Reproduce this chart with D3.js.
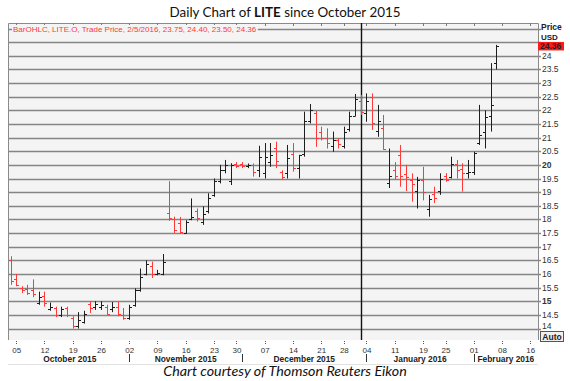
<!DOCTYPE html>
<html>
<head>
<meta charset="utf-8">
<script src="https://cdn.jsdelivr.net/npm/d3@7"></script>
<style>
  body { margin: 0; background: #fff; }
  svg { display: block; }
</style>
</head>
<body>
<div id="chart"></div>
<script>
// trading sessions shown on the chart (Oct 2 2015 - Feb 5 2016)
const dates = [
  "2015-10-02","2015-10-05","2015-10-06","2015-10-07","2015-10-08","2015-10-09","2015-10-12","2015-10-13","2015-10-14","2015-10-15",
  "2015-10-16","2015-10-19","2015-10-20","2015-10-21","2015-10-22","2015-10-23","2015-10-26","2015-10-27","2015-10-28","2015-10-29",
  "2015-10-30","2015-11-02","2015-11-03","2015-11-04","2015-11-05","2015-11-06","2015-11-09","2015-11-10","2015-11-11","2015-11-12",
  "2015-11-13","2015-11-16","2015-11-17","2015-11-18","2015-11-19","2015-11-20","2015-11-23","2015-11-24","2015-11-25","2015-11-27",
  "2015-11-30","2015-12-01","2015-12-02","2015-12-03","2015-12-04","2015-12-07","2015-12-08","2015-12-09","2015-12-10","2015-12-11",
  "2015-12-14","2015-12-15","2015-12-16","2015-12-17","2015-12-18","2015-12-21","2015-12-22","2015-12-23","2015-12-24","2015-12-28",
  "2015-12-29","2015-12-30","2015-12-31","2016-01-04","2016-01-05","2016-01-06","2016-01-07","2016-01-08","2016-01-11","2016-01-12",
  "2016-01-13","2016-01-14","2016-01-15","2016-01-19","2016-01-20","2016-01-21","2016-01-22","2016-01-25","2016-01-26","2016-01-27",
  "2016-01-28","2016-01-29","2016-02-01","2016-02-02","2016-02-03","2016-02-04","2016-02-05"
];
// empty sessions on the right of the time axis
const futureDates = ["2016-02-08","2016-02-09","2016-02-10","2016-02-11","2016-02-12","2016-02-16"];

const open = [
  16.50,15.80,15.50,15.45,15.40,14.95,15.20,14.70,14.75,14.50,
  14.75,14.40,14.10,14.25,14.90,14.80,14.80,14.80,14.70,14.80,
  14.50,14.40,14.85,15.40,16.00,16.30,16.00,16.00,18.25,18.00,
  17.85,17.50,18.00,18.30,17.90,18.30,18.90,19.40,19.80,19.40,
  20.05,20.05,19.95,20.00,19.80,19.70,20.10,20.60,19.75,19.70,
  20.40,19.90,20.40,21.60,21.90,21.20,21.00,20.70,20.90,20.70,
  21.30,21.80,22.35,21.90,22.50,21.25,21.35,19.35,19.80,20.35,
  19.65,19.45,19.05,19.45,18.40,18.95,19.05,19.60,19.55,20.05,
  19.85,19.70,19.75,20.80,21.20,21.80,23.75
];
const high = [
  16.65,16.00,15.55,15.60,15.80,15.35,15.35,14.95,14.80,14.80,
  14.80,14.45,14.60,14.65,15.00,15.00,15.00,14.87,14.97,14.97,
  14.75,14.87,15.47,16.20,16.50,16.45,16.15,16.73,19.40,18.10,
  18.09,17.97,18.77,18.40,18.48,18.96,19.50,20.00,20.18,20.06,
  20.10,20.10,20.05,20.05,20.70,20.80,20.80,20.85,19.80,20.73,
  20.80,20.37,21.95,22.23,21.98,21.40,21.34,21.22,20.97,21.40,
  21.95,22.60,22.56,22.62,22.62,22.20,21.83,20.60,20.10,20.73,
  20.00,19.69,19.56,19.93,18.90,19.20,19.69,19.70,20.30,20.18,
  20.06,20.18,20.48,22.20,22.00,23.73,24.40
];
const low = [
  15.60,15.55,15.30,15.23,15.15,14.87,14.80,14.65,14.42,14.42,
  14.42,14.00,14.00,14.18,14.57,14.68,14.68,14.50,14.60,14.45,
  14.32,14.32,14.80,15.35,15.95,15.85,15.95,15.95,17.95,17.50,
  17.47,17.47,17.97,17.92,17.80,18.22,18.83,19.32,19.69,19.26,
  19.88,19.88,19.88,19.57,19.55,19.50,19.93,19.88,19.45,19.50,
  19.75,19.50,20.30,21.52,20.66,20.90,20.60,20.48,20.60,20.60,
  21.22,21.77,21.83,21.58,21.28,21.03,20.55,19.15,19.45,19.20,
  19.04,18.65,18.40,18.70,18.10,18.60,18.90,19.38,19.50,19.50,
  19.02,19.50,19.63,20.73,20.60,21.22,23.50
];
const close = [
  15.75,15.60,15.40,15.30,15.25,15.15,14.95,14.80,14.50,14.70,
  14.50,14.10,14.30,14.55,14.75,14.90,14.85,14.55,14.80,14.55,
  14.40,14.80,15.40,15.90,16.35,16.00,16.05,16.45,18.05,17.60,
  17.55,17.90,18.10,18.05,18.20,18.80,19.40,19.80,20.00,20.00,
  19.95,19.95,20.00,19.75,20.30,20.30,20.35,20.15,19.55,20.25,
  19.90,20.35,21.60,22.00,21.00,21.00,20.80,20.90,20.75,21.20,
  21.80,22.40,21.95,22.35,21.55,21.60,20.58,19.60,19.60,19.60,
  19.55,19.30,19.45,19.00,18.75,18.80,19.50,19.45,20.05,19.80,
  19.70,19.75,20.45,21.10,21.75,22.20,24.36
];

const priceTicks = [24, 23.5, 23, 22.5, 22, 21.5, 21, 20.5, 20, 19.5, 19, 18.5, 18, 17.5, 17, 16.5, 16, 15.5, 15, 14.5, 14];
const gridValues = [25, 24.5].concat(priceTicks);
const boldTicks = [20, 15];

const dayTicks = ["2015-10-05","2015-10-12","2015-10-19","2015-10-26","2015-11-02","2015-11-09","2015-11-16","2015-11-23","2015-11-30",
  "2015-12-07","2015-12-14","2015-12-21","2015-12-28","2016-01-04","2016-01-11","2016-01-19","2016-01-25","2016-02-01","2016-02-08","2016-02-16"];
const monthStarts = ["2015-10-02","2015-11-02","2015-12-01","2016-01-04","2016-02-01"];
const monthLabels = ["October 2015","November 2015","December 2015","January 2016","February 2016"];

const legendText = "BarOHLC, LITE.O, Trade Price, 2/5/2016, 23.75, 24.40, 23.50, 24.36";
const yearBreak = "2015-12-31";

const WIDTH = 570;
const HEIGHT = 381;
const PLOT = { left: 8, right: 538, top: 23, bottom: 340 };
const RED = "#ff3838";
const BLACK = "#1e1e1e";
const GRID = "#858585";
const AXIS_FONT = "'Liberation Sans', Arial, sans-serif";

const svg = d3.select("#chart").append("svg")
  .attr("width", WIDTH)
  .attr("height", HEIGHT);

const x = d3.scalePoint()
  .domain(dates.concat(futureDates))
  .range([10.5, 530.3]);

const y = d3.scaleLinear()
  .domain([14, 25])
  .range([328.5, 28.5]);

// title
svg.append("text")
  .attr("x", 285)
  .attr("y", 17)
  .attr("text-anchor", "middle")
  .style("font-family", "Lato, 'Open Sans', sans-serif")
  .style("font-size", "13.4px")
  .attr("fill", "#111")
  .call(t => {
    t.append("tspan").text("Daily Chart of ");
    t.append("tspan").style("font-weight", "bold").text("LITE");
    t.append("tspan").text(" since October 2015");
  });

// plot background
svg.append("rect")
  .attr("x", PLOT.left)
  .attr("y", PLOT.top)
  .attr("width", PLOT.right - PLOT.left)
  .attr("height", PLOT.bottom - PLOT.top)
  .attr("fill", "#f4f4f4");

// gridlines
svg.append("g")
  .selectAll("line")
  .data(gridValues)
  .enter()
  .append("line")
  .attr("x1", PLOT.left)
  .attr("x2", PLOT.right + 3)
  .attr("y1", d => Math.round(y(d)) + 0.5)
  .attr("y2", d => Math.round(y(d)) + 0.5)
  .attr("stroke", GRID)
  .attr("stroke-width", 1.3);

// frame
svg.append("path")
  .attr("d", `M${PLOT.left + 0.5},${PLOT.bottom} V${PLOT.top + 0.5} H${PLOT.right + 0.5} V${PLOT.bottom}`)
  .attr("fill", "none")
  .attr("stroke", "#8a8a8a")
  .attr("stroke-width", 1);

// top tick marks
svg.append("g")
  .selectAll("line")
  .data(dayTicks)
  .enter()
  .append("line")
  .attr("x1", d => Math.round(x(d)) + 0.5)
  .attr("x2", d => Math.round(x(d)) + 0.5)
  .attr("y1", PLOT.top)
  .attr("y2", PLOT.top + 3)
  .attr("stroke", "#777");

// year break line
svg.append("line")
  .attr("x1", Math.round(x(yearBreak)) + 0.5)
  .attr("x2", Math.round(x(yearBreak)) + 0.5)
  .attr("y1", PLOT.top)
  .attr("y2", PLOT.bottom)
  .attr("stroke", "#111")
  .attr("stroke-width", 1.4);

// legend line of the series
const legendG = svg.append("g");
const legendLabel = legendG.append("text")
  .attr("x", 13)
  .attr("y", 32)
  .style("font-family", AXIS_FONT)
  .style("font-size", "8px")
  .attr("fill", RED)
  .text(legendText);
const lb = legendLabel.node().getBBox();
legendG.insert("rect", "text")
  .attr("x", lb.x - 1)
  .attr("y", lb.y)
  .attr("width", lb.width + 2)
  .attr("height", lb.height)
  .attr("fill", "#f4f4f4");

// OHLC bars
const bars = svg.append("g")
  .selectAll("g")
  .data(dates.map((d, i) => ({ date: d, o: open[i], h: high[i], l: low[i], c: close[i] })))
  .enter()
  .append("g")
  .attr("stroke", d => d.c < d.o ? RED : BLACK)
  .attr("stroke-width", 1);

bars.append("line")
  .attr("x1", d => Math.round(x(d.date)) + 0.5)
  .attr("x2", d => Math.round(x(d.date)) + 0.5)
  .attr("y1", d => y(d.h))
  .attr("y2", d => y(d.l));

bars.append("line")
  .attr("x1", d => Math.round(x(d.date)) - 2)
  .attr("x2", d => Math.round(x(d.date)))
  .attr("y1", d => Math.round(y(d.o)) + 0.5)
  .attr("y2", d => Math.round(y(d.o)) + 0.5);

bars.append("line")
  .attr("x1", d => Math.round(x(d.date)) + 1)
  .attr("x2", d => Math.round(x(d.date)) + 3)
  .attr("y1", d => Math.round(y(d.c)) + 0.5)
  .attr("y2", d => Math.round(y(d.c)) + 0.5);

// price axis labels
svg.append("g")
  .selectAll("text")
  .data(priceTicks)
  .enter()
  .append("text")
  .attr("x", 542)
  .attr("y", (d, i) => y(d) + 3 - (i === priceTicks.length - 1 ? 3 : 0))
  .style("font-family", AXIS_FONT)
  .style("font-size", "8.5px")
  .style("font-weight", d => boldTicks.includes(d) ? "bold" : "normal")
  .attr("fill", "#333")
  .text(d => d3.format("~g")(d));

svg.append("text")
  .attr("x", 541)
  .attr("y", 30)
  .style("font-family", AXIS_FONT)
  .style("font-size", "8.5px")
  .style("font-weight", "bold")
  .attr("fill", "#222")
  .text("Price");

svg.append("text")
  .attr("x", 541)
  .attr("y", 39.5)
  .style("font-family", AXIS_FONT)
  .style("font-size", "8px")
  .style("font-weight", "bold")
  .attr("fill", "#222")
  .text("USD");

// last price marker
const last = close[close.length - 1];
svg.append("rect")
  .attr("x", 538)
  .attr("y", y(last) - 4)
  .attr("width", 26)
  .attr("height", 8.5)
  .attr("fill", "#ff1a1a");
svg.append("text")
  .attr("x", 540)
  .attr("y", y(last) + 3)
  .style("font-family", AXIS_FONT)
  .style("font-size", "8.5px")
  .style("font-weight", "bold")
  .attr("fill", "#222")
  .text(d3.format(".2f")(last));

// "Auto" button
svg.append("rect")
  .attr("x", 540.5)
  .attr("y", 331.5)
  .attr("width", 23)
  .attr("height", 10)
  .attr("fill", "#f0f0f0")
  .attr("stroke", "#555");
svg.append("text")
  .attr("x", 552)
  .attr("y", 339.5)
  .attr("text-anchor", "middle")
  .style("font-family", AXIS_FONT)
  .style("font-size", "8.5px")
  .style("font-weight", "bold")
  .attr("fill", "#222")
  .text("Auto");

// time axis
const timeAxis = svg.append("g");

timeAxis.selectAll("line.tick")
  .data(dayTicks)
  .enter()
  .append("line")
  .attr("class", "tick")
  .attr("x1", d => Math.round(x(d)) + 0.5)
  .attr("x2", d => Math.round(x(d)) + 0.5)
  .attr("y1", PLOT.bottom + 1)
  .attr("y2", PLOT.bottom + 5)
  .attr("stroke", "#555")
  .attr("stroke-dasharray", "1,1");

timeAxis.selectAll("text.day")
  .data(dayTicks)
  .enter()
  .append("text")
  .attr("class", "day")
  .attr("x", d => x(d) + 0.5)
  .attr("y", 353)
  .attr("text-anchor", "middle")
  .style("font-family", AXIS_FONT)
  .style("font-size", "8px")
  .attr("fill", "#333")
  .text(d => d.slice(8));

// month separators and names
timeAxis.selectAll("line.sep")
  .data(monthStarts.slice(1))
  .enter()
  .append("line")
  .attr("class", "sep")
  .attr("x1", d => Math.round(x(d)) + 0.5)
  .attr("x2", d => Math.round(x(d)) + 0.5)
  .attr("y1", 354)
  .attr("y2", 362)
  .attr("stroke", "#333");

timeAxis.selectAll("text.month")
  .data(monthStarts)
  .enter()
  .append("text")
  .attr("class", "month")
  .attr("x", (d, i) => {
    const start = x(d);
    const end = i < monthStarts.length - 1 ? x(monthStarts[i + 1]) : PLOT.right;
    return (start + end) / 2;
  })
  .attr("y", 361.5)
  .attr("text-anchor", "middle")
  .style("font-family", AXIS_FONT)
  .style("font-size", "8.4px")
  .style("font-weight", "bold")
  .attr("fill", "#222")
  .text((d, i) => monthLabels[i]);

svg.append("line")
  .attr("x1", PLOT.left)
  .attr("x2", PLOT.right)
  .attr("y1", 364.5)
  .attr("y2", 364.5)
  .attr("stroke", "#e2e2e2");

// caption
svg.append("text")
  .attr("x", 285)
  .attr("y", 376)
  .attr("text-anchor", "middle")
  .style("font-family", "Lato, 'Open Sans', sans-serif")
  .style("font-size", "14.3px")
  .style("font-style", "italic")
  .attr("fill", "#111")
  .text("Chart courtesy of Thomson Reuters Eikon");
</script>
</body>
</html>
